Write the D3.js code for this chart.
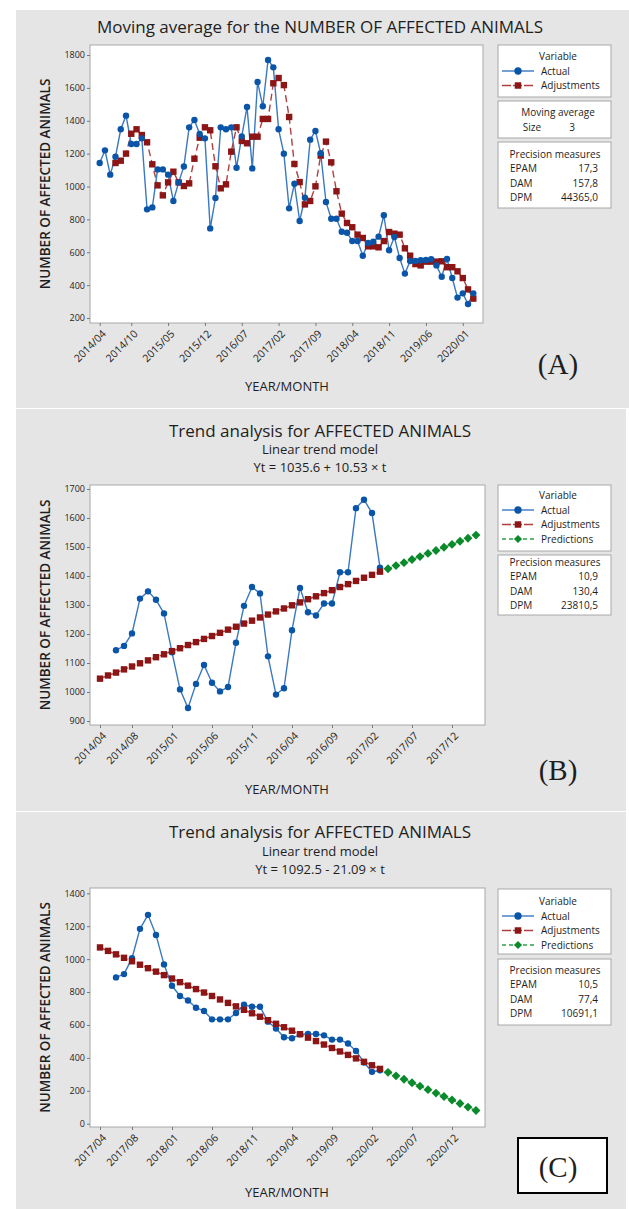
<!DOCTYPE html>
<html>
<head>
<meta charset="utf-8">
<script src="https://cdn.jsdelivr.net/npm/d3@7"></script>
<style>
  body { margin: 0; background: #fff; }
  text { font-family: "Open Sans", "Noto Sans", sans-serif; fill: #1e1e1e; }
</style>
</head>
<body>
<svg id="chart" width="629" height="1209"></svg>
<script>
// ---- panel A: moving average (index 1 = 2014/04) ----
const aTickIdx = [1, 7, 14, 21, 28, 35, 42, 49, 56, 63, 70];
const aTickLabels = ["2014/04", "2014/10", "2015/05", "2015/12", "2016/07", "2017/02",
                     "2017/09", "2018/04", "2018/11", "2019/06", "2020/01"];
const aYTicks = [200, 400, 600, 800, 1000, 1200, 1400, 1600, 1800];
const aActual = [1143, 1220, 1072, 1181, 1348, 1431, 1259, 1259, 1293, 861,
                 873, 1104, 1104, 1072, 912, 1025, 1122, 1360, 1405, 1319,
                 1293, 745, 930, 1360, 1348, 1360, 1114, 1305, 1484, 1110,
                 1636, 1488, 1770, 1725, 1348, 1200, 867, 1017, 790, 932,
                 1285, 1338, 1202, 906, 804, 804, 725, 719, 668, 668,
                 579, 656, 664, 695, 825, 612, 693, 565, 470, 547,
                 547, 551, 553, 557, 520, 451, 559, 443, 324, 350,
                 285, 350];
// adjustments start at index 4
const aAdjust = [1143, 1157, 1200, 1321, 1348, 1313, 1269, 1135, 1007, 946,
                 1025, 1090, 1025, 1003, 1019, 1169, 1297, 1360, 1342, 1123,
                 989, 1013, 1212, 1360, 1277, 1263, 1303, 1303, 1411, 1411,
                 1628, 1660, 1617, 1423, 1137, 1027, 891, 912, 1001, 1188,
                 1273, 1147, 971, 835, 778, 752, 707, 687, 636, 636,
                 630, 668, 723, 713, 707, 624, 579, 528, 520, 543,
                 543, 543, 545, 509, 509, 484, 443, 374, 318];

// ---- panel B: linear trend (index 1 = 2014/04) ----
const bTickIdx = [1, 5, 10, 15, 20, 25, 30, 35, 40, 45];
const bTickLabels = ["2014/04", "2014/08", "2015/01", "2015/06", "2015/11",
                     "2016/04", "2016/09", "2017/02", "2017/07", "2017/12"];
const bYTicks = [900, 1000, 1100, 1200, 1300, 1400, 1500, 1600, 1700];
// actual starts at index 3
const bActual = [1144, 1159, 1202, 1322, 1347, 1318, 1271, 1137, 1009, 945,
                 1028, 1093, 1032, 1002, 1017, 1170, 1297, 1362, 1340, 1123,
                 991, 1013, 1213, 1359, 1275, 1264, 1305, 1305, 1413, 1413,
                 1634, 1663, 1617, 1429];
const bTrend = [1046, 1057, 1067, 1078, 1088, 1099, 1109, 1120, 1130, 1141,
                1151, 1162, 1172, 1183, 1193, 1204, 1215, 1225, 1236, 1246,
                1257, 1267, 1278, 1288, 1299, 1309, 1320, 1330, 1341, 1351,
                1362, 1372, 1383, 1394, 1404, 1415];
// predictions start at index 37
const bPred = [1425, 1436, 1446, 1457, 1467, 1478, 1488, 1499, 1509, 1520, 1530, 1541];

// ---- panel C: linear trend (index 1 = 2017/04) ----
const cTickIdx = [1, 5, 10, 15, 20, 25, 30, 35, 40, 45];
const cTickLabels = ["2017/04", "2017/08", "2018/01", "2018/06", "2018/11",
                     "2019/04", "2019/09", "2020/02", "2020/07", "2020/12"];
const cYTicks = [0, 200, 400, 600, 800, 1000, 1200, 1400];
const cActual = [889, 909, 1006, 1184, 1269, 1147, 968, 838, 776, 749,
                 705, 685, 634, 634, 634, 673, 723, 711, 711, 620,
                 578, 525, 519, 543, 545, 545, 537, 511, 511, 487,
                 442, 372, 315, 325];
const cTrend = [1071, 1050, 1029, 1008, 987, 966, 945, 924, 903, 882,
                860, 839, 818, 797, 776, 755, 734, 713, 692, 671,
                650, 629, 607, 586, 565, 544, 523, 502, 481, 460,
                439, 418, 397, 376, 355, 333];
const cPred = [312, 291, 270, 249, 228, 207, 186, 165, 144, 123, 101, 80];

const BLUE = "#0b55a8", BLUE_LINE = "#3a78c0";
const RED = "#8c1515", RED_LINE = "#b04040";
const GREEN = "#0a8a2a", GREEN_LINE = "#2fa04a";

const svg = d3.select("#chart");

function pts(values, start) {
    return values.map((v, i) => ({ t: start + i, v: v }));
}

function drawPanel(p) {
    const g = svg.append("g");
    g.append("rect")
        .attr("x", p.bg[0]).attr("y", p.bg[1])
        .attr("width", p.bg[2]).attr("height", p.bg[3])
        .attr("fill", "#e5e5e5");

    p.titles.forEach(t => {
        g.append("text")
            .attr("x", 320).attr("y", t.y)
            .attr("text-anchor", "middle")
            .style("font-size", t.size + "px")
            .text(t.text);
    });

    const f = p.frame;
    g.append("rect")
        .attr("x", f.x0).attr("y", f.y0)
        .attr("width", f.x1 - f.x0).attr("height", f.y1 - f.y0)
        .attr("fill", "#fff").attr("stroke", "#a8a8a8");

    const x = d3.scaleLinear().domain(p.xDomain).range(p.xRange);
    const y = d3.scaleLinear().domain(p.yDomain).range(p.yRange);

    const yAxis = g.append("g")
        .attr("transform", `translate(${f.x0},0)`)
        .call(d3.axisLeft(y).tickValues(p.yTicks).tickSize(3).tickPadding(2).tickFormat(d3.format("d")));
    yAxis.select(".domain").remove();
    yAxis.selectAll("line").attr("stroke", "#777");
    yAxis.selectAll("text").style("font-size", "9px").attr("fill", "#1e1e1e");

    const labelOf = new Map(p.xTicks.map((d, i) => [d, p.xLabels[i]]));
    const xAxis = g.append("g")
        .attr("transform", `translate(0,${f.y1})`)
        .call(d3.axisBottom(x).tickValues(p.xTicks).tickSize(3).tickFormat(d => labelOf.get(d)));
    xAxis.select(".domain").remove();
    xAxis.selectAll("line").attr("stroke", "#777");
    xAxis.selectAll("text")
        .attr("x", 0).attr("y", 0).attr("dy", "0.35em")
        .attr("transform", "translate(4,9) rotate(-45)")
        .style("text-anchor", "end")
        .style("font-size", "10.5px")
        .attr("fill", "#1e1e1e");

    const line = d3.line().x(d => x(d.t)).y(d => y(d.v));

    // adjustments / trend (red)
    const adj = pts(p.adj, p.adjStart);
    g.append("path").datum(adj)
        .attr("fill", "none").attr("stroke", RED_LINE)
        .attr("stroke-width", 1.4)
        .attr("stroke-dasharray", p.redDash)
        .attr("d", line);

    // predictions (green)
    if (p.pred) {
        const pr = pts(p.pred, p.predStart);
        g.append("path").datum(pr)
            .attr("fill", "none").attr("stroke", GREEN_LINE)
            .attr("stroke-width", 1.4).attr("stroke-dasharray", "4,3")
            .attr("d", line);
        g.append("g").selectAll("path").data(pr).join("path")
            .attr("transform", d => `translate(${x(d.t)},${y(d.v)})`)
            .attr("d", d3.symbol(d3.symbolDiamond2, 50))
            .attr("fill", GREEN);
    }

    // actual (blue)
    const act = pts(p.actual, p.actualStart);
    g.append("path").datum(act)
        .attr("fill", "none").attr("stroke", BLUE_LINE)
        .attr("stroke-width", 1.4)
        .attr("d", line);

    const drawAdjMarks = () => g.append("g").selectAll("rect").data(adj).join("rect")
        .attr("x", d => x(d.t) - 3.2).attr("y", d => y(d.v) - 3.2)
        .attr("width", 6.4).attr("height", 6.4)
        .attr("fill", RED);
    const drawActMarks = () => g.append("g").selectAll("circle").data(act).join("circle")
        .attr("cx", d => x(d.t)).attr("cy", d => y(d.v))
        .attr("r", 3.2).attr("fill", BLUE);
    if (p.redOnTop) { drawActMarks(); drawAdjMarks(); } else { drawAdjMarks(); drawActMarks(); }

    // axis titles
    g.append("text")
        .attr("transform", `translate(${p.yTitleX},${(f.y0 + f.y1) / 2}) rotate(-90)`)
        .attr("text-anchor", "middle")
        .style("font-size", "13.5px").style("font-weight", 600)
        .text("NUMBER OF AFFECTED ANIMALS");
    g.append("text")
        .attr("x", 287).attr("y", p.xTitleY)
        .attr("text-anchor", "middle")
        .style("font-size", "13px")
        .text("YEAR/MONTH");

    // legend boxes
    const lx = 498, lw = 113;
    p.boxes.forEach(b => {
        g.append("rect").attr("x", lx).attr("y", b.y).attr("width", lw).attr("height", b.h)
            .attr("fill", "#fff").attr("stroke", "#a8a8a8");
    });

    const items = [
        { name: "Actual", color: BLUE_LINE, mark: d3.symbolCircle, fill: BLUE, dash: null },
        { name: "Adjustments", color: RED_LINE, mark: d3.symbolSquare, fill: RED, dash: "9,2" },
        { name: "Predictions", color: GREEN_LINE, mark: d3.symbolDiamond2, fill: GREEN, dash: "4,3" }
    ].slice(0, p.pred ? 3 : 2);

    const fs = "10px";
    const lg = g.append("g");
    lg.append("text").attr("x", 558).attr("y", p.legendY).attr("text-anchor", "middle")
        .style("font-size", fs).text("Variable");
    items.forEach((it, i) => {
        const yy = p.legendY + 14.5 * (i + 1);
        lg.append("line").attr("x1", 502).attr("x2", 534).attr("y1", yy - 3.5).attr("y2", yy - 3.5)
            .attr("stroke", it.color).attr("stroke-width", 1.4)
            .attr("stroke-dasharray", it.dash);
        lg.append("path").attr("transform", `translate(518,${yy - 3.5})`)
            .attr("d", d3.symbol(it.mark, 42)).attr("fill", it.fill);
        lg.append("text").attr("x", 541).attr("y", yy).style("font-size", fs).text(it.name);
    });

    if (p.maY) {
        lg.append("text").attr("x", 558).attr("y", p.maY).attr("text-anchor", "middle")
            .style("font-size", fs).text("Moving average");
        lg.append("text").attr("x", 532).attr("y", p.maY + 15).attr("text-anchor", "middle")
            .style("font-size", fs).text("Size");
        lg.append("text").attr("x", 572).attr("y", p.maY + 15).attr("text-anchor", "middle")
            .style("font-size", fs).text("3");
    }

    lg.append("text").attr("x", 555).attr("y", p.precY).attr("text-anchor", "middle")
        .style("font-size", fs).text("Precision measures");
    p.prec.forEach((m, i) => {
        const yy = p.precY + 14.3 * (i + 1);
        lg.append("text").attr("x", 510).attr("y", yy).style("font-size", fs).text(m[0]);
        lg.append("text").attr("x", 598).attr("y", yy).attr("text-anchor", "end")
            .style("font-size", fs).text(m[1]);
    });

    // panel letter
    if (p.letterBox) {
        g.append("rect").attr("x", 518).attr("y", p.letterBox).attr("width", 89).attr("height", 55)
            .attr("fill", "#fff").attr("stroke", "#000").attr("stroke-width", 2);
    }
    g.append("text").attr("x", 558).attr("y", p.letterY).attr("text-anchor", "middle")
        .style("font-family", "'Liberation Serif', 'DejaVu Serif', serif")
        .style("font-size", "29px").attr("fill", "#000")
        .text(p.letter);
}

drawPanel({
    bg: [16, 10, 613, 398],
    titles: [{ text: "Moving average for the NUMBER OF AFFECTED ANIMALS", y: 33, size: 17 }],
    frame: { x0: 90, y0: 45, x1: 483, y1: 323 },
    xDomain: [1, 72], xRange: [99.7, 473.3],
    yDomain: [200, 1800], yRange: [318, 55],
    xTicks: aTickIdx, xLabels: aTickLabels, yTicks: aYTicks,
    actual: aActual, actualStart: 1,
    adj: aAdjust, adjStart: 4, redDash: "7,4", redOnTop: false,
    yTitleX: 50, xTitleY: 391,
    boxes: [{ y: 45, h: 52 }, { y: 101, h: 37 }, { y: 142, h: 66 }],
    legendY: 60, maY: 116, precY: 158,
    prec: [["EPAM", "17,3"], ["DAM", "157,8"], ["DPM", "44365,0"]],
    letter: "(A)", letterY: 374
});

drawPanel({
    bg: [16, 409, 610, 402],
    titles: [
        { text: "Trend analysis for AFFECTED ANIMALS", y: 437, size: 17 },
        { text: "Linear trend model", y: 454, size: 13 },
        { text: "Yt = 1035.6 + 10.53 \u00d7 t", y: 472, size: 13 }
    ],
    frame: { x0: 90, y0: 485, x1: 485, y1: 725 },
    xDomain: [1, 48], xRange: [100, 476],
    yDomain: [900, 1700], yRange: [721, 489],
    xTicks: bTickIdx, xLabels: bTickLabels, yTicks: bYTicks,
    actual: bActual, actualStart: 3,
    adj: bTrend, adjStart: 1, pred: bPred, predStart: 37, redDash: "6,2", redOnTop: true,
    yTitleX: 50, xTitleY: 794,
    boxes: [{ y: 485, h: 66 }, { y: 555, h: 60 }],
    legendY: 499, precY: 566,
    prec: [["EPAM", "10,9"], ["DAM", "130,4"], ["DPM", "23810,5"]],
    letter: "(B)", letterY: 780
});

drawPanel({
    bg: [16, 812, 610, 397],
    titles: [
        { text: "Trend analysis for AFFECTED ANIMALS", y: 838, size: 17 },
        { text: "Linear trend model", y: 856, size: 13 },
        { text: "Yt = 1092.5 - 21.09 \u00d7 t", y: 874, size: 13 }
    ],
    frame: { x0: 90, y0: 888, x1: 485, y1: 1127 },
    xDomain: [1, 48], xRange: [100, 476],
    yDomain: [0, 1400], yRange: [1123.7, 893.3],
    xTicks: cTickIdx, xLabels: cTickLabels, yTicks: cYTicks,
    actual: cActual, actualStart: 3,
    adj: cTrend, adjStart: 1, pred: cPred, predStart: 37, redDash: "6,2", redOnTop: true,
    yTitleX: 50, xTitleY: 1197,
    boxes: [{ y: 889, h: 65 }, { y: 959, h: 66 }],
    legendY: 905, precY: 974,
    prec: [["EPAM", "10,5"], ["DAM", "77,4"], ["DPM", "10691,1"]],
    letter: "(C)", letterY: 1177, letterBox: 1138
});
</script>
</body>
</html>
